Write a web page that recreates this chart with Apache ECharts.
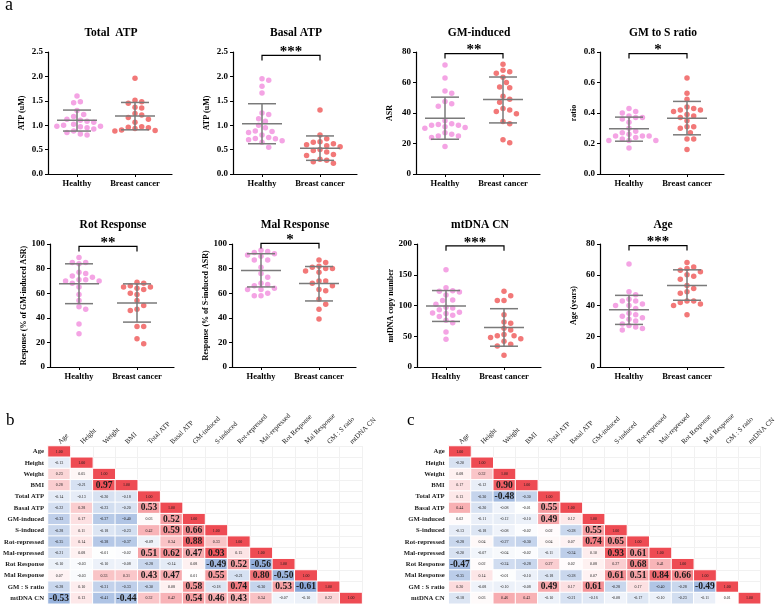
<!DOCTYPE html>
<html><head><meta charset="utf-8">
<script src="https://cdn.jsdelivr.net/npm/echarts@6/dist/echarts.min.js"></script>
<style>html,body{margin:0;padding:0;background:#fff}#c{width:778px;height:604px}</style>
</head><body><div id="c"></div>
<script>
// ---------- panel a data ----------
const groups = ['Healthy', 'Breast cancer'];
const titles = ['Total  ATP', 'Basal ATP', 'GM-induced', 'GM to S ratio', 'Rot Response', 'Mal Response', 'mtDNA CN', 'Age'];
const yNames = ['ATP (uM)', 'ATP (uM)', 'ASR', 'ratio', 'Response (% of GM-induced ASR)', 'Response (% of S-induced ASR)', 'mtDNA copy number', 'Age (years)'];
const yMax = [2.5, 2.5, 80, 0.8, 100, 100, 200, 80];
const yStep = [0.5, 0.5, 20, 0.2, 20, 20, 50, 20];
const yDecimals = [1, 1, 0, 1, 0, 0, 0, 0];
const stars = ['', '***', '**', '*', '**', '*', '***', '***'];
const bracketY = [null, 2.43, 79, 0.79, 98, 100.5, 197, 79];

const totalAtpHealthy = [1.60,1.48,1.46,1.30,1.22,1.18,1.12,1.10,1.08,1.06,1.02,1.00,0.98,0.98,0.97,0.95,0.92,0.88,0.85,0.82,0.80];
const totalAtpCancer = [1.96,1.51,1.48,1.45,1.37,1.35,1.24,1.21,1.16,1.12,1.06,0.97,0.96,0.95,0.93,0.90,0.89,0.88];
const basalAtpHealthy = [1.95,1.92,1.80,1.66,1.25,1.22,1.13,1.08,1.00,0.95,0.88,0.87,0.85,0.80,0.75,0.73,0.72,0.70,0.68,0.65,0.55];
const basalAtpCancer = [1.31,0.80,0.72,0.66,0.65,0.62,0.60,0.58,0.56,0.50,0.48,0.45,0.40,0.38,0.30,0.28,0.25,0.22];
const gmHealthy = [71.5,63,54.5,53,47.5,46,44.5,35,33,32.5,32,32,31,30.5,30,27,26,25,25,24,18];
const gmCancer = [72,68,67,66,63.5,60,57,56.5,51,49,47,43,42,41,39.5,34.5,33,22.5,20.5];
const ratioHealthy = [0.43,0.41,0.40,0.38,0.37,0.37,0.36,0.34,0.30,0.28,0.27,0.26,0.25,0.25,0.25,0.24,0.23,0.22,0.22,0.22,0.17];
const ratioCancer = [0.63,0.53,0.49,0.44,0.43,0.42,0.42,0.41,0.39,0.38,0.37,0.35,0.31,0.31,0.30,0.27,0.23,0.23,0.16];
const rotHealthy = [89,85,85,84,77,76,74,73,71,71,70,70,68,65,59,54,49,47,35,27];
const rotCancer = [69,68,66,65,65,64,63,60,59,54,50,47,46,33,33,23,19];
const malHealthy = [95,94,93,92,91,90,87,87,81,76,73,68,67,66,64,63,63,60,58,58];
const malCancer = [87,85,82,81,80,80,78,77,70,70,68,66,63,62,55,51,47,39];
const mtHealthy = [158,129,124,123,122,117,109,108,102,97,96,93,89,88,87,84,82,76,72,57,45];
const mtCancer = [123,116,108,108,85,73,71,63,60,53,51,51,48,46,42,37,34,19];
const ageHealthy = [67,49,47,44,43,43,41,40,40,38,35,34,33,32,31,30,28,27,26,25,24];
const ageCancer = [68,65,64,63,62,60,59,57,53,51,49,48,43,43,42,41,40,34];

// mean and SD bars (mean, mean+SD, mean-SD)
const meanHealthy = [1.10, 1.03, 36.6, 0.296, 67.6, 78.5, 99.2, 37.3];
const upperHealthy = [1.31, 1.44, 50.4, 0.373, 83.9, 92.1, 124.3, 46.6];
const lowerHealthy = [0.88, 0.62, 22.8, 0.215, 51.5, 65.1, 74.1, 27.7];
const meanCancer = [1.19, 0.53, 48.9, 0.366, 52.0, 67.8, 64.3, 53.0];
const upperCancer = [1.466, 0.78, 63.6, 0.476, 67.6, 81.7, 94.8, 63.2];
const lowerCancer = [0.905, 0.28, 33.5, 0.257, 36.5, 53.7, 33.8, 43.4];

// ---------- panels b & c data ----------
const varNames = ['Age','Height','Weight','BMI','Total ATP','Basal ATP','GM-induced','S-induced','Rot-repressed','Mal-repressed','Rot Response','Mal Response','GM : S ratio','mtDNA CN'];
const corrB = [
 [1.00],
 [-0.13,1.00],
 [0.23,0.05,1.00],
 [0.28,-0.21,0.97,1.00],
 [-0.14,-0.13,-0.20,-0.18,1.00],
 [-0.22,0.28,-0.23,-0.20,0.53,1.00],
 [-0.33,0.17,-0.37,-0.40,0.03,0.52,1.00],
 [-0.28,0.11,-0.18,-0.23,0.42,0.59,0.66,1.00],
 [-0.35,0.14,-0.38,-0.37,-0.09,0.34,0.88,0.33,1.00],
 [-0.21,0.08,-0.01,-0.02,0.51,0.62,0.47,0.93,0.15,1.00],
 [-0.10,-0.03,-0.10,-0.08,-0.28,-0.14,0.08,-0.49,0.52,-0.56,1.00],
 [0.07,-0.03,0.33,0.31,0.43,0.47,0.01,0.55,-0.21,0.80,-0.50,1.00],
 [-0.28,0.10,-0.31,-0.33,-0.30,0.08,0.58,-0.18,0.74,-0.30,0.53,-0.61,1.00],
 [-0.53,0.13,-0.41,-0.44,0.32,0.42,0.54,0.46,0.43,0.34,-0.07,-0.10,0.22,1.00]
];
const corrC = [
 [1.00],
 [-0.20,1.00],
 [0.08,0.32,1.00],
 [0.17,-0.12,0.90,1.00],
 [0.13,-0.30,-0.48,-0.30,1.00],
 [0.44,-0.20,-0.08,-0.01,0.55,1.00],
 [0.02,-0.11,-0.12,-0.10,0.49,0.12,1.00],
 [-0.13,-0.18,-0.08,-0.02,0.02,-0.28,0.55,1.00],
 [-0.28,0.04,-0.27,-0.30,0.04,0.07,0.74,0.65,1.00],
 [-0.20,-0.07,-0.04,-0.02,-0.11,-0.34,0.10,0.93,0.61,1.00],
 [-0.47,0.02,-0.24,-0.28,0.27,0.02,0.08,0.27,0.68,0.41,1.00],
 [-0.35,0.14,-0.01,-0.10,-0.18,-0.28,0.07,0.61,0.51,0.84,0.66,1.00],
 [0.20,-0.08,-0.10,-0.08,0.49,0.17,0.61,-0.28,0.17,-0.40,-0.28,-0.49,1.00],
 [-0.18,0.03,0.46,0.43,-0.10,-0.21,-0.16,-0.08,-0.17,-0.10,-0.23,-0.11,0.01,1.00]
];
const sigThresholdB = 0.43;
const sigThresholdC = 0.47;

// ---------- layout & style ----------
const FONT = '"Liberation Serif","Times New Roman",serif';
const healthyColor = '#f4a4e4';
const cancerColor = '#f27878';
const barColor = '#7a7a7a';
const gridLefts = [48, 233, 416, 600, 50, 232, 417, 600];
const gridTops = [52, 52, 52, 52, 244, 244, 244, 244];
const gridHeights = [122, 122, 122, 122, 123, 123, 123, 123];
const GW = 124, CAT_PX = 29, XMAX = GW / CAT_PX;
const xPos = [1, 3];
const DOT = 5.5;

const healthySets = [totalAtpHealthy, basalAtpHealthy, gmHealthy, ratioHealthy, rotHealthy, malHealthy, mtHealthy, ageHealthy];
const cancerSets = [totalAtpCancer, basalAtpCancer, gmCancer, ratioCancer, rotCancer, malCancer, mtCancer, ageCancer];

function swarm(values, pxPerUnit, d) {
  const idx = values.map((v, i) => i).sort((a, b) => values[b] - values[a]);
  const placed = [], off = new Array(values.length).fill(0);
  for (const i of idx) {
    const y = values[i] * pxPerUnit;
    for (let k = 0; k < 60; k++) {
      const dx = k === 0 ? 0 : (k % 2 ? 1 : -1) * Math.ceil(k / 2) * d * 0.55;
      if (placed.every(p => (p.x - dx) ** 2 + (p.y - y) ** 2 >= d * d)) {
        off[i] = dx; placed.push({x: dx, y}); break;
      }
    }
  }
  return off;
}

const grids = [], xAxes = [], yAxes = [], series = [], titleComps = [];
for (let i = 0; i < 8; i++) {
  grids.push({left: gridLefts[i], top: gridTops[i], width: GW, height: gridHeights[i]});
  const axLine = {show: true, onZero: false, lineStyle: {color: '#000', width: 1.2}};
  xAxes.push({
    type: 'value', gridIndex: i, min: 0, max: XMAX,
    axisLine: axLine,
    axisTick: {show: true, customValues: xPos, length: 3, lineStyle: {color: '#000', width: 1}},
    axisLabel: {show: true, customValues: xPos, formatter: v => groups[xPos.indexOf(v)] || '',
      fontFamily: FONT, fontWeight: 'bold', fontSize: 8.5, color: '#000', margin: 5},
    splitLine: {show: false}
  });
  yAxes.push({
    type: 'value', gridIndex: i, min: 0, max: yMax[i], interval: yStep[i],
    axisLine: axLine,
    axisTick: {show: true, length: 3, lineStyle: {color: '#000', width: 1}},
    axisLabel: {fontFamily: FONT, fontWeight: 'bold', fontSize: 9, color: '#000', margin: 5,
      formatter: v => v.toFixed(yDecimals[i])},
    splitLine: {show: false},
    name: yNames[i], nameLocation: 'middle', nameGap: 22,
    nameTextStyle: {fontFamily: FONT, fontWeight: 'bold', fontSize: 8, color: '#000'}
  });
  titleComps.push({text: titles[i], left: gridLefts[i] + 58, top: gridTops[i] - 30, textAlign: 'center',
    textStyle: {fontFamily: FONT, fontWeight: 'bold', fontSize: 11.5, color: '#000'}});
  const pxPerY = gridHeights[i] / yMax[i];
  [healthySets[i], cancerSets[i]].forEach((vals, g) => {
    const off = swarm(vals, pxPerY, DOT + 0.6);
    series.push({
      type: 'scatter', xAxisIndex: i, yAxisIndex: i, symbolSize: DOT,
      itemStyle: {color: g === 0 ? healthyColor : cancerColor, opacity: 1},
      data: vals.map((v, k) => [xPos[g] + off[k] / CAT_PX, v]), z: 2, silent: true
    });
  });
  series.push({
    type: 'custom', xAxisIndex: i, yAxisIndex: i, z: 5, clip: false, silent: true,
    data: [[xPos[0], meanHealthy[i], upperHealthy[i], lowerHealthy[i]], [xPos[1], meanCancer[i], upperCancer[i], lowerCancer[i]]],
    renderItem: (params, api) => {
      const x = api.value(0);
      const m = api.coord([x, api.value(1)]), u = api.coord([x, api.value(2)]), l = api.coord([x, api.value(3)]);
      const st = {stroke: barColor, lineWidth: 1.5};
      return {type: 'group', children: [
        {type: 'line', shape: {x1: m[0] - 20, y1: m[1], x2: m[0] + 20, y2: m[1]}, style: st},
        {type: 'line', shape: {x1: u[0] - 14, y1: u[1], x2: u[0] + 14, y2: u[1]}, style: st},
        {type: 'line', shape: {x1: l[0] - 14, y1: l[1], x2: l[0] + 14, y2: l[1]}, style: st},
        {type: 'line', shape: {x1: u[0], y1: u[1], x2: l[0], y2: l[1]}, style: st}
      ]};
    }
  });
  if (stars[i]) {
    series.push({
      type: 'custom', xAxisIndex: i, yAxisIndex: i, z: 5, clip: false, silent: true,
      data: [[xPos[0], xPos[1], bracketY[i]]],
      renderItem: (params, api) => {
        const a = api.coord([api.value(0), api.value(2)]), b = api.coord([api.value(1), api.value(2)]);
        return {type: 'group', children: [
          {type: 'polyline', shape: {points: [[a[0], a[1] + 5], [a[0], a[1]], [b[0], a[1]], [b[0], b[1] + 5]]},
            style: {stroke: '#000', lineWidth: 1.2, fill: null}},
          {type: 'text', style: {text: stars[i], x: (a[0] + b[0]) / 2, y: a[1] - 3, align: 'center', verticalAlign: 'middle',
            font: 'bold 15px ' + FONT, fill: '#000'}}
        ]};
      }
    });
  }
}

// heatmaps
const heatLefts = [45.7, 448.7];
const HW = 22.6 * 14, HH = 11.27 * 14, HTOP = 446;
const corrSets = [corrB, corrC];
const thresholds = [sigThresholdB, sigThresholdC];
const heatSeriesIdx = [];
for (let h = 0; h < 2; h++) {
  const gi = 8 + h;
  grids.push({left: heatLefts[h], top: HTOP, width: HW, height: HH});
  xAxes.push({type: 'category', gridIndex: gi, position: 'top', data: varNames,
    axisLine: {show: false}, axisTick: {show: false},
    axisLabel: {rotate: -45, fontFamily: FONT, fontSize: 7, color: '#222', margin: 3, interval: 0},
    splitLine: {show: true, lineStyle: {color: '#f1f1f1', width: 1}}});
  yAxes.push({type: 'category', gridIndex: gi, data: varNames, inverse: true,
    axisLine: {show: false}, axisTick: {show: false},
    axisLabel: {fontFamily: FONT, fontSize: 6.7, fontWeight: 'bold', color: '#222', margin: 4, interval: 0},
    splitLine: {show: true, lineStyle: {color: '#f1f1f1', width: 1}}});
  const data = [];
  corrSets[h].forEach((row, i) => row.forEach((v, j) => {
    const big = i !== j && Math.abs(v) >= thresholds[h];
    data.push({value: [j, i, v], label: {fontSize: big ? 9.5 : 4, fontWeight: big ? 'bold' : 'normal'}});
  }));
  heatSeriesIdx.push(series.length);
  series.push({type: 'heatmap', xAxisIndex: gi, yAxisIndex: gi, data, silent: true,
    itemStyle: {borderColor: '#fff', borderWidth: 1},
    label: {show: true, fontFamily: FONT, color: '#1a1a1a', formatter: p => p.value[2].toFixed(2)}});
}

const chart = echarts.init(document.getElementById('c'), null, {renderer: 'canvas'});
chart.setOption({
  animation: false,
  backgroundColor: '#fff',
  title: titleComps,
  grid: grids, xAxis: xAxes, yAxis: yAxes,
  visualMap: {type: 'continuous', min: -1, max: 1, show: false, seriesIndex: heatSeriesIdx, dimension: 2,
    inRange: {color: ['#3d6fbf', '#ffffff', '#ee4b53']}},
  graphic: [
    {type: 'text', left: 5, top: -4, style: {text: 'a', font: '18px ' + FONT, fill: '#000'}},
    {type: 'text', left: 6, top: 412, style: {text: 'b', font: '17px ' + FONT, fill: '#000'}},
    {type: 'text', left: 407, top: 412, style: {text: 'c', font: '17px ' + FONT, fill: '#000'}}
  ],
  series
});
</script></body></html>
